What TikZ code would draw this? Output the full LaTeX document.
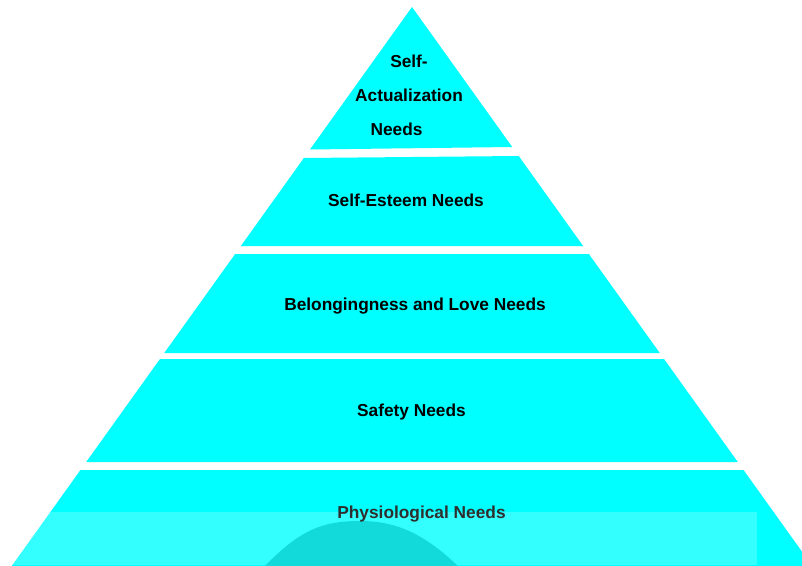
\documentclass[tikz,border=0pt]{standalone}
\usepackage{fontspec}
\setmainfont{Liberation Sans}
\usepackage{tikz}
\usetikzlibrary{positioning, calc}

\definecolor{layercyan}{HTML}{00FFFF}
\definecolor{moundteal}{HTML}{12DADA}

\begin{document}
\begin{tikzpicture}[x=1pt, y=-1pt,
    layer/.style={fill=layercyan},
    needlabel/.style={font=\fontsize{17.3}{34}\selectfont\bfseries, anchor=base, inner sep=0pt, align=center}]
                  \clip (0,0) rectangle (802,565);
                  \fill[white] (0,0) rectangle (802,565);

                  % Layers
                  \fill[layer] (412,7) -- ({412+0.716*140},147) -- ({412-0.716*142.5},149.5) -- cycle;
                  \foreach \tl/\tr/\b in {158/156/246, 254/254/353, 359/359/462, 470/470/575}
                  \fill[layer] ({412-0.716*(\tl-7)},\tl) -- ({412+0.716*(\tr-7)},\tr)
                      -- ({412+0.716*(\b-7)},\b) -- ({412-0.716*(\b-7)},\b) -- cycle;

                  % Base shading
                  \fill[white, opacity=0.2] (0,512) rectangle (757,565);
                  \fill[moundteal] (265,566) .. controls (300,530) and (322,521) .. (360,521)
                      .. controls (398,521) and (425,535) .. (458,566) -- cycle;

                  % Labels (base of a stacked label is its last line)
                  \node[needlabel] (selfact) at (409,135) {Self-\\Actualization\\Needs\hspace*{25pt}};
                  \node[needlabel] (esteem) at (406,206) {Self-Esteem Needs};
                  \node[needlabel] (belong) at (415,310) {Belongingness and Love Needs};
                  \node[needlabel] (safety) at (411.5,416) {Safety Needs};
                  \node[needlabel, text=black!82] (physio) at (421.5,518) {Physiological Needs};
              \end{tikzpicture}
\end{document}
